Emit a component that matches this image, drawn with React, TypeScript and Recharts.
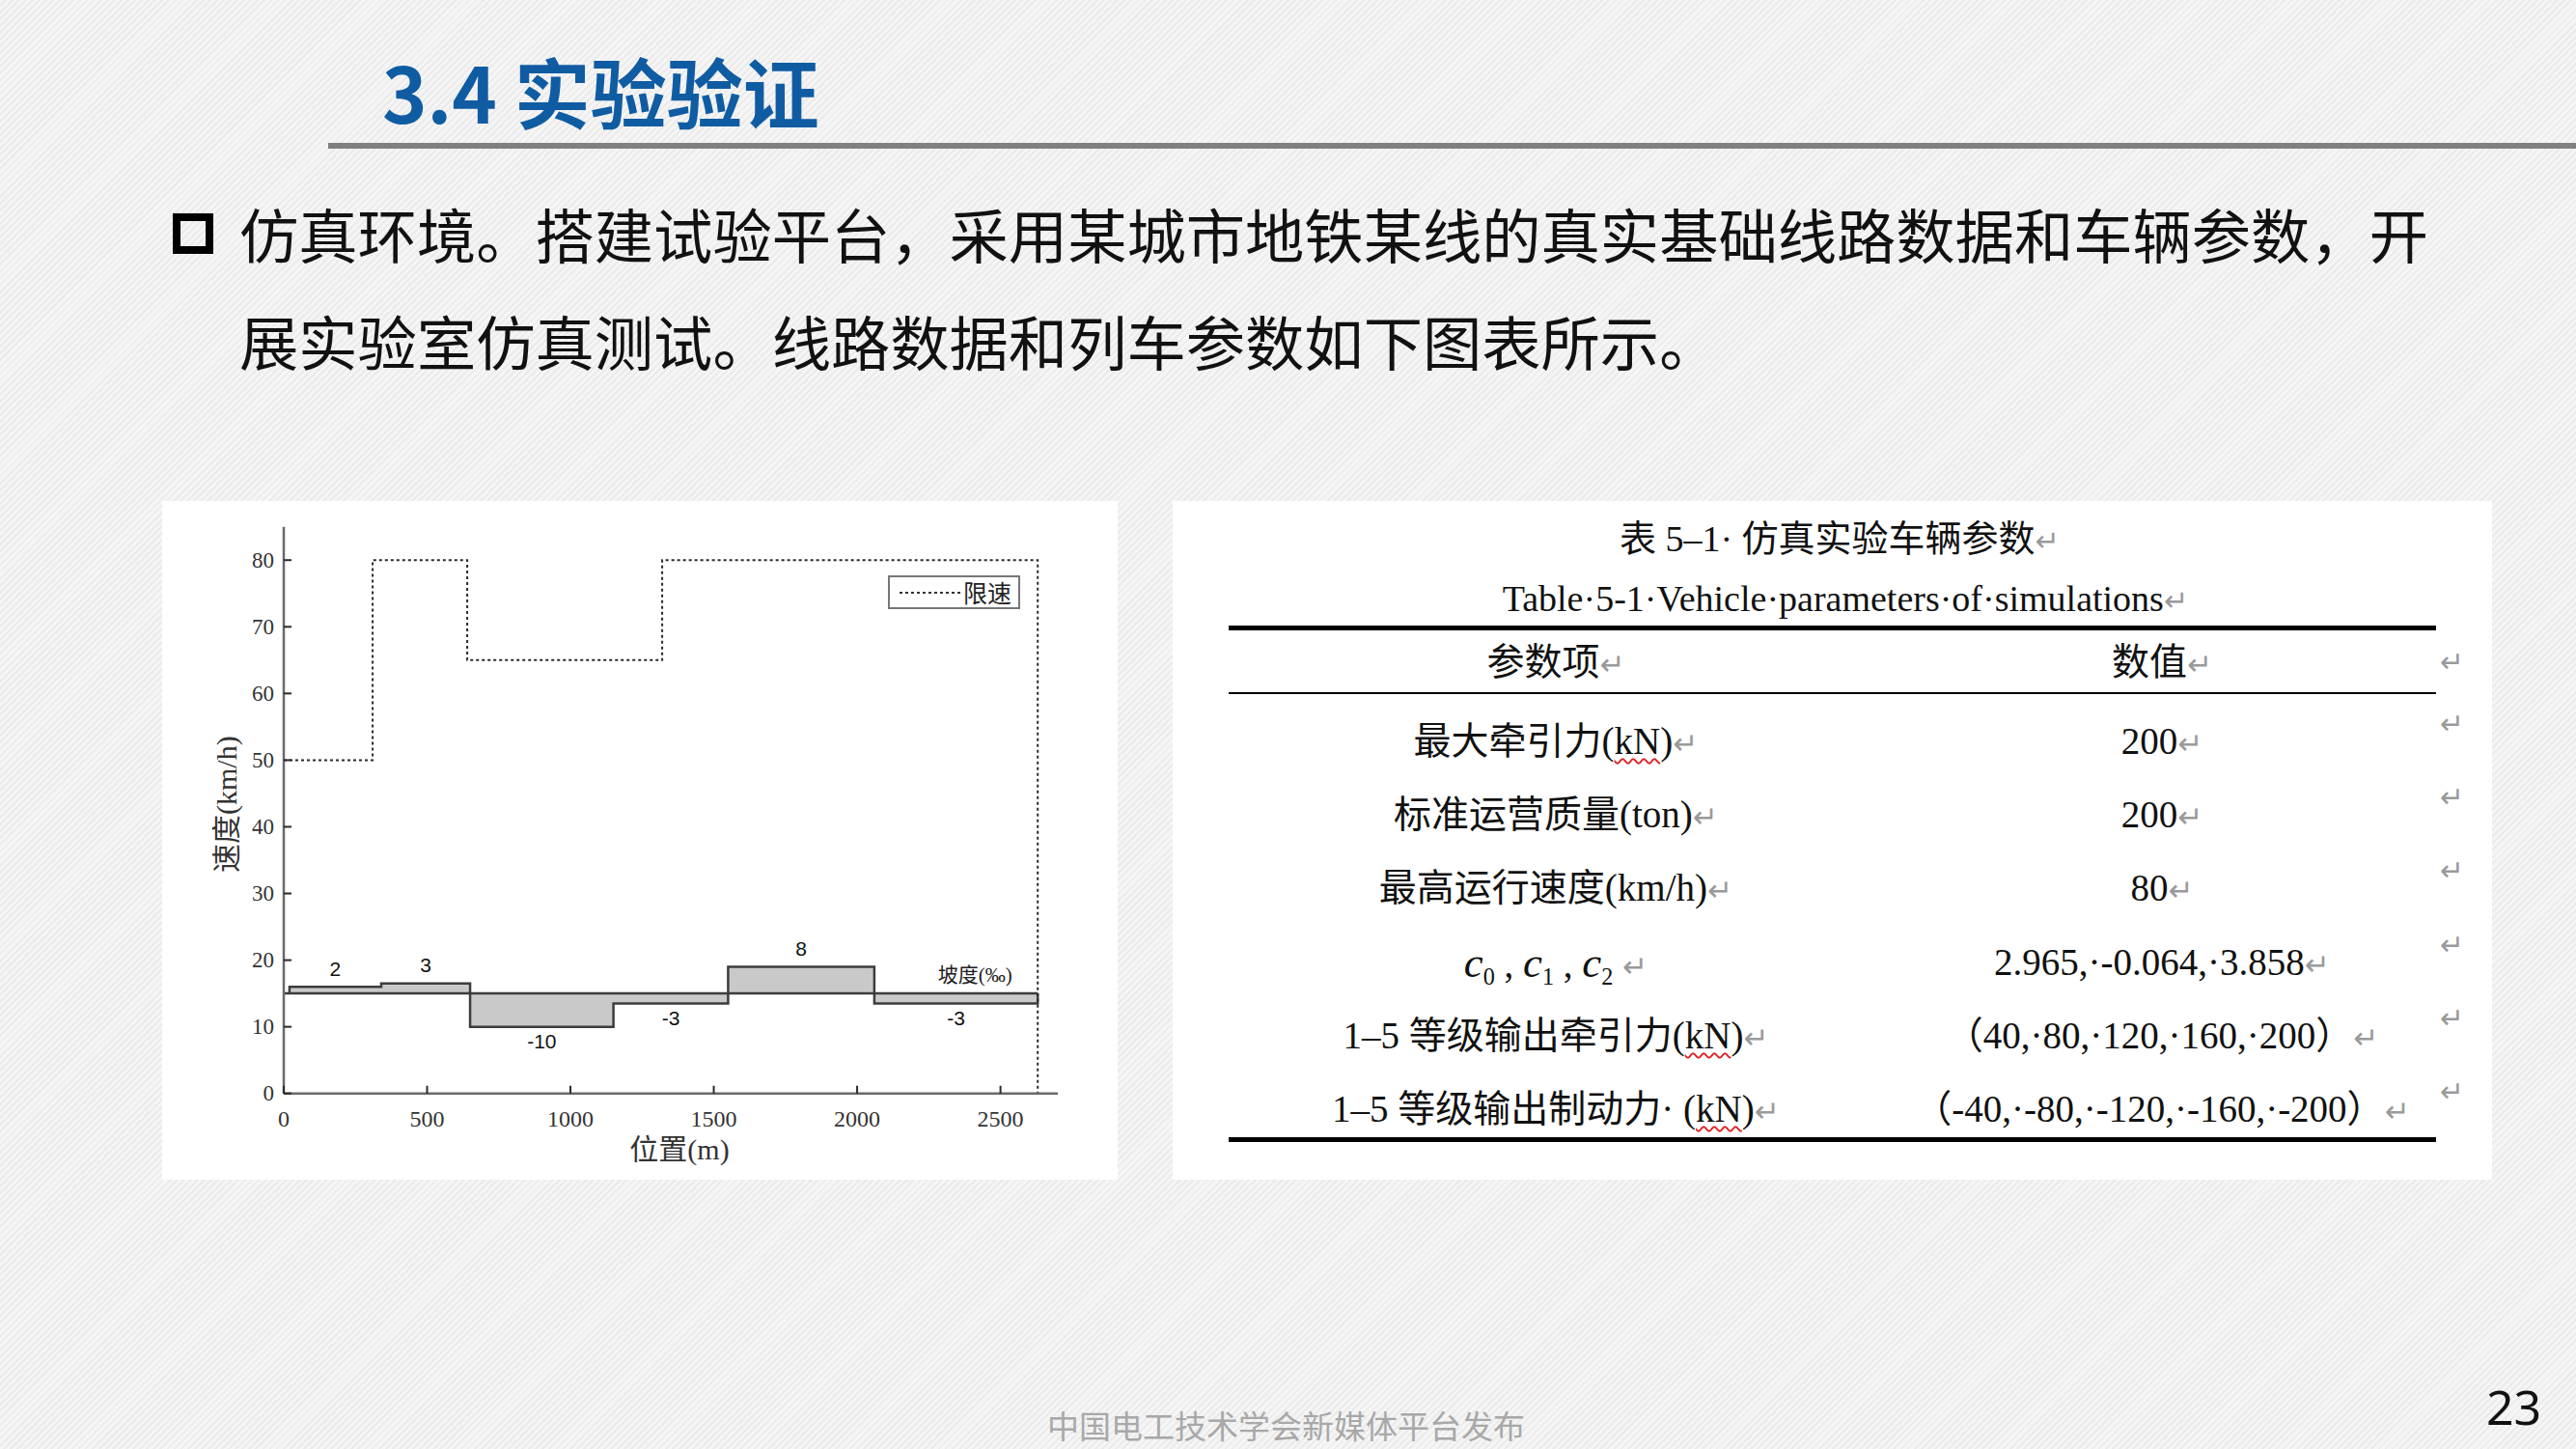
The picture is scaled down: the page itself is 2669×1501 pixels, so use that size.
import React from 'react';
import { ComposedChart, Line, Area, Scatter, XAxis, YAxis, Legend } from 'recharts';

// ---------------- chart data ----------------
const positionTicks = [0, 500, 1000, 1500, 2000, 2500];
const speedTicks = [0, 10, 20, 30, 40, 50, 60, 70, 80];
const positionDomain = [0, 2700];
const speedDomain = [0, 85];

const limitPositions = [0, 310, 640, 1320, 2630];
const limitSpeeds = [50, 80, 65, 80, 0];

const gradeStarts = [20, 340, 650, 1150, 1550, 2060];
const gradeEnd = 2630;
const gradeValues = [2, 3, -10, -3, 8, -3];
const gradeBaseSpeed = 15;
const gradeDrawScale = 0.5;

const gradeUnitText = '坡度(‰)';
const gradeUnitAt = [2411, 17.7];

const limitLegend = '限速';
const xAxisTitle = '位置(m)';
const yAxisTitle = '速度(km/h)';

// ---------------- slide texts ----------------
const slideTitle = '3.4 实验验证';
const bodyLine1 = '仿真环境。搭建试验平台，采用某城市地铁某线的真实基础线路数据和车辆参数，开';
const bodyLine2 = '展实验室仿真测试。线路数据和列车参数如下图表所示。';
const footerText = '中国电工技术学会新媒体平台发布';
const pageNumber = '23';

// ---------------- table data ----------------
const tableCaptionZh = '表 5–1· 仿真实验车辆参数';
const tableCaptionEn = 'Table·5-1·Vehicle·parameters·of·simulations';
const tableHeaders = ['参数项', '数值'];
const paramNames = [
  '最大牵引力(kN)',
  '标准运营质量(ton)',
  '最高运行速度(km/h)',
  'C012',
  '1–5 等级输出牵引力(kN)',
  '1–5 等级输出制动力· (kN)',
];
const paramValues = [
  '200',
  '200',
  '80',
  '2.965,·-0.064,·3.858',
  '（40,·80,·120,·160,·200）',
  '（-40,·-80,·-120,·-160,·-200）',
];

// ---------------- derived series ----------------
const limitData = limitPositions.map((x, i) => ({ x, limit: limitSpeeds[i] }));
const lastGrade = gradeValues[gradeValues.length - 1];
const profileData = [
  { x: gradeStarts[0], h: gradeBaseSpeed },
  ...gradeStarts.map((x, i) => ({ x, h: gradeBaseSpeed + gradeValues[i] * gradeDrawScale })),
  { x: gradeEnd, h: gradeBaseSpeed + lastGrade * gradeDrawScale },
  { x: gradeEnd, h: gradeBaseSpeed },
];
const baselineData = [
  { x: positionDomain[0], b: gradeBaseSpeed },
  { x: gradeEnd, b: gradeBaseSpeed },
];
const gradeLabelData = gradeValues.map((v, i) => {
  const s = gradeStarts[i];
  const e = i + 1 < gradeStarts.length ? gradeStarts[i + 1] : gradeEnd;
  return { x: (s + e) / 2, y: gradeBaseSpeed + v * gradeDrawScale, v };
});
const gradeUnitData = [{ x: gradeUnitAt[0], y: gradeUnitAt[1] }];

const SERIF = '"Liberation Serif", "Noto Sans CJK SC", serif';
const SANS_CJK = '"Noto Sans CJK SC", "Noto Sans", sans-serif';
const AXIS_LINE = { stroke: '#6a6a6a', strokeWidth: 2.5 };
const TICK_COLOR = '#2a2a2a';
const TICK_LEN = 8;

const LeftTick = (p: any) => (
  <g>
    <line x1={p.x + 10} x2={p.x + 10 + TICK_LEN} y1={p.y} y2={p.y} stroke={TICK_COLOR} strokeWidth={2} />
    <text x={p.x} y={p.y} textAnchor="end" dominantBaseline="central" fontFamily={SERIF} fontSize={23} fill="#333">
      {p.payload.value}
    </text>
  </g>
);
const RightTick = (p: any) => (
  <line x1={p.x - TICK_LEN} x2={p.x} y1={p.y} y2={p.y} stroke={TICK_COLOR} strokeWidth={2} />
);
const BottomTick = (p: any) => (
  <g>
    <line x1={p.x} x2={p.x} y1={p.y - 17} y2={p.y - 17 - TICK_LEN} stroke={TICK_COLOR} strokeWidth={2} />
    <text x={p.x} y={p.y + 9} textAnchor="middle" dominantBaseline="central" fontFamily={SERIF} fontSize={24} fill="#333">
      {p.payload.value}
    </text>
  </g>
);
const TopTick = (p: any) => (
  <line x1={p.x} x2={p.x} y1={p.y} y2={p.y + TICK_LEN} stroke={TICK_COLOR} strokeWidth={2} />
);

const YTitle = (props: any) => {
  const vb = props.viewBox || { x: 66, y: 26.7, width: 60, height: 587 };
  const cx = vb.x + 1;
  const cy = vb.y + vb.height / 2 - 6;
  return (
    <text x={cx} y={cy} transform={`rotate(-90, ${cx}, ${cy})`} textAnchor="middle" dominantBaseline="central"
      fontFamily={SERIF} fontSize={30} fill="#333">
      {yAxisTitle}
    </text>
  );
};
const XTitle = (props: any) => {
  const vb = props.viewBox || { x: 126, y: 613.7, width: 802, height: 40 };
  const cx = vb.x + vb.width / 2 + 9;
  const cy = vb.y + 58;
  return (
    <text x={cx} y={cy} textAnchor="middle" dominantBaseline="central" fontFamily={SERIF} fontSize={30} fill="#333">
      {xAxisTitle}
    </text>
  );
};

const LegendBox = () => (
  <div
    style={{
      width: 137,
      height: 35,
      boxSizing: 'border-box',
      border: '2.5px solid #777',
      background: '#fff',
      display: 'flex',
      alignItems: 'center',
      fontFamily: SANS_CJK,
      fontSize: 25,
      color: '#222',
      lineHeight: '1',
    }}
  >
    <svg width={66} height={8} style={{ marginLeft: 10 }}>
      <line x1={0} x2={66} y1={4} y2={4} stroke="#333" strokeWidth={2} strokeDasharray="3 3" />
    </svg>
    <span style={{ marginLeft: 0 }}>{limitLegend}</span>
  </div>
);

const SpeedChart = () => (
  <ComposedChart width={990} height={703} margin={{ top: 26.7, right: 62, bottom: 49.3, left: 66 }}>
    <XAxis
      xAxisId="b"
      dataKey="x"
      type="number"
      domain={positionDomain}
      ticks={positionTicks}
      allowDataOverflow
      interval={0}
      height={40}
      tickSize={0}
      tickMargin={17}
      tickLine={false}
      tick={(p: any) => <BottomTick {...p} />}
      axisLine={AXIS_LINE}
      label={{ content: (p: any) => <XTitle {...p} /> }}
    />
    <XAxis
      xAxisId="t"
      orientation="top"
      dataKey="x"
      type="number"
      domain={positionDomain}
      ticks={positionTicks}
      allowDataOverflow
      interval={0}
      height={0}
      tickSize={0}
      tickMargin={0}
      tickLine={false}
      tick={(p: any) => <TopTick {...p} />}
      axisLine={AXIS_LINE}
    />
    <YAxis
      yAxisId="l"
      type="number"
      domain={speedDomain}
      ticks={speedTicks}
      allowDataOverflow
      interval={0}
      width={60}
      tickSize={0}
      tickMargin={10}
      tickLine={false}
      tick={(p: any) => <LeftTick {...p} />}
      axisLine={AXIS_LINE}
      label={{ content: (p: any) => <YTitle {...p} /> }}
    />
    <YAxis
      yAxisId="r"
      orientation="right"
      type="number"
      domain={speedDomain}
      ticks={speedTicks}
      allowDataOverflow
      interval={0}
      width={0}
      tickSize={0}
      tickMargin={0}
      tickLine={false}
      tick={(p: any) => <RightTick {...p} />}
      axisLine={AXIS_LINE}
    />
    <Area
      xAxisId="b"
      yAxisId="l"
      data={profileData}
      dataKey="h"
      type="stepAfter"
      baseValue={gradeBaseSpeed}
      stroke="#3c3c3c"
      strokeWidth={2.5}
      fill="#c9c9c9"
      fillOpacity={1}
      isAnimationActive={false}
      dot={false}
      activeDot={false}
    />
    <Line
      xAxisId="b"
      yAxisId="l"
      data={baselineData}
      dataKey="b"
      stroke="#3c3c3c"
      strokeWidth={2.5}
      dot={false}
      activeDot={false}
      isAnimationActive={false}
    />
    <Line
      xAxisId="b"
      yAxisId="l"
      data={limitData}
      dataKey="limit"
      type="stepAfter"
      stroke="#2a2a2a"
      strokeWidth={2}
      strokeDasharray="3 3"
      dot={false}
      activeDot={false}
      isAnimationActive={false}
    />
    <Scatter
      xAxisId="b"
      yAxisId="l"
      data={gradeLabelData}
      dataKey="y"
      isAnimationActive={false}
      shape={(p: any) => (
        <text
          x={p.cx}
          y={p.payload.v >= 0 ? p.cy - 19 : p.cy + 15}
          textAnchor="middle"
          dominantBaseline="central"
          fontFamily='"Liberation Sans", Arial, sans-serif'
          fontSize={21}
          fill="#111"
        >
          {p.payload.v}
        </text>
      )}
    />
    <Scatter
      xAxisId="b"
      yAxisId="l"
      data={gradeUnitData}
      dataKey="y"
      isAnimationActive={false}
      shape={(p: any) => (
        <text x={p.cx} y={p.cy} textAnchor="middle" dominantBaseline="central" fontFamily={SERIF} fontSize={21} fill="#222">
          {gradeUnitText}
        </text>
      )}
    />
    <Legend
      layout="horizontal"
      verticalAlign="middle"
      align="center"
      content={() => <LegendBox />}
      wrapperStyle={{ position: 'absolute', left: 752, top: 77, width: 137, height: 35 }}
    />
  </ComposedChart>
);

const RET = <span style={{ color: '#9a9a9a', fontFamily: '"DejaVu Sans", sans-serif', fontSize: '0.8em' }}>↵</span>;

const renderName = (name: string) => {
  if (name === 'C012') {
    const C = (i: number) => (
      <span>
        <i style={{ fontSize: '1.15em' }}>c</i>
        <sub style={{ fontSize: '0.62em', verticalAlign: '-0.35em' }}>{i}</sub>
      </span>
    );
    return (
      <span>
        {C(0)} , {C(1)} , {C(2)} {RET}
      </span>
    );
  }
  const k = name.indexOf('(kN)');
  if (k >= 0) {
    return (
      <span>
        {name.slice(0, k)}(
        <span style={{ textDecoration: 'underline wavy #e02020', textDecorationThickness: '1.5px', textUnderlineOffset: '4px' }}>kN</span>
        ){RET}
      </span>
    );
  }
  return (
    <span>
      {name}
      {RET}
    </span>
  );
};

const Centered = ({ cx, cy, size, children }: any) => (
  <div
    style={{
      position: 'absolute',
      left: cx - 500,
      width: 1000,
      top: cy - 25,
      height: 50,
      lineHeight: '50px',
      textAlign: 'center',
      fontFamily: SERIF,
      fontSize: size,
      color: '#111',
      whiteSpace: 'nowrap',
    }}
  >
    {children}
  </div>
);

const ParamTable = () => {
  const colName = 1612;
  const colVal = 2240;
  const rowY0 = 768;
  const rowStep = 76.2;
  return (
    <>
      <Centered cx={1906} cy={558} size={38}>
        {tableCaptionZh}
        {RET}
      </Centered>
      <Centered cx={1912} cy={620} size={38}>
        {tableCaptionEn}
        {RET}
      </Centered>
      <div style={{ position: 'absolute', left: 1273, width: 1251, top: 648, height: 5, background: '#000' }} />
      <Centered cx={colName} cy={686} size={39}>
        {tableHeaders[0]}
        {RET}
      </Centered>
      <Centered cx={colVal} cy={686} size={39}>
        {tableHeaders[1]}
        {RET}
      </Centered>
      <div style={{ position: 'absolute', left: 2528, top: 668, fontSize: 30, color: '#9a9a9a', fontFamily: '"DejaVu Sans"' }}>↵</div>
      <div style={{ position: 'absolute', left: 1273, width: 1251, top: 717, height: 2, background: '#000' }} />
      {paramNames.map((n, i) => (
        <React.Fragment key={n}>
          <Centered cx={colName} cy={rowY0 + i * rowStep} size={39}>
            {renderName(n)}
          </Centered>
          <Centered cx={colVal} cy={rowY0 + i * rowStep} size={39}>
            {paramValues[i]}
            {RET}
          </Centered>
          <div
            style={{
              position: 'absolute',
              left: 2528,
              top: rowY0 + i * rowStep - 36,
              fontSize: 30,
              color: '#9a9a9a',
              fontFamily: '"DejaVu Sans"',
            }}
          >
            ↵
          </div>
        </React.Fragment>
      ))}
      <div style={{ position: 'absolute', left: 1273, width: 1251, top: 1178, height: 5, background: '#000' }} />
    </>
  );
};

export default function App() {
  return (
    <div
      style={{
        position: 'absolute',
        left: 0,
        top: 0,
        width: 2669,
        height: 1501,
        overflow: 'hidden',
        backgroundColor: '#f1f1f1',
        backgroundImage:
          'repeating-linear-gradient(135deg, #f5f5f5 0px, #f5f5f5 3px, #ebebeb 3px, #ebebeb 5px)',
        fontFamily: SANS_CJK,
      }}
    >
      {/* title */}
      <div
        style={{
          position: 'absolute',
          left: 396,
          top: 54,
          fontSize: 79,
          lineHeight: '1',
          fontWeight: 700,
          color: '#105ca3',
          whiteSpace: 'nowrap',
        }}
      >
        {slideTitle}
      </div>
      <div style={{ position: 'absolute', left: 340, right: 0, top: 148, height: 6, background: '#808080' }} />

      {/* bullet + body */}
      <div
        style={{
          position: 'absolute',
          left: 179,
          top: 221,
          width: 42,
          height: 42,
          boxSizing: 'border-box',
          border: '8px solid #000',
        }}
      />
      <div style={{ position: 'absolute', left: 248, top: 211, fontSize: 61.3, lineHeight: '1', color: '#111', whiteSpace: 'nowrap' }}>
        {bodyLine1}
      </div>
      <div style={{ position: 'absolute', left: 248, top: 322, fontSize: 61.3, lineHeight: '1', color: '#111', whiteSpace: 'nowrap' }}>
        {bodyLine2}
      </div>

      {/* chart panel */}
      <div style={{ position: 'absolute', left: 168, top: 519, width: 990, height: 703, background: '#fff' }}>
        <SpeedChart />
      </div>

      {/* table panel */}
      <div style={{ position: 'absolute', left: 1215, top: 519, width: 1367, height: 703, background: '#fff' }} />
      <ParamTable />

      {/* footer */}
      <div style={{ position: 'absolute', left: 1085, top: 1460, fontSize: 33, lineHeight: '1', color: '#a8a8a8', whiteSpace: 'nowrap' }}>
        {footerText}
      </div>
      <div
        style={{
          position: 'absolute',
          left: 2576,
          top: 1432,
          fontSize: 50,
          lineHeight: '1',
          color: '#111',
          fontFamily: '"Noto Sans", sans-serif',
        }}
      >
        {pageNumber}
      </div>
    </div>
  );
}
